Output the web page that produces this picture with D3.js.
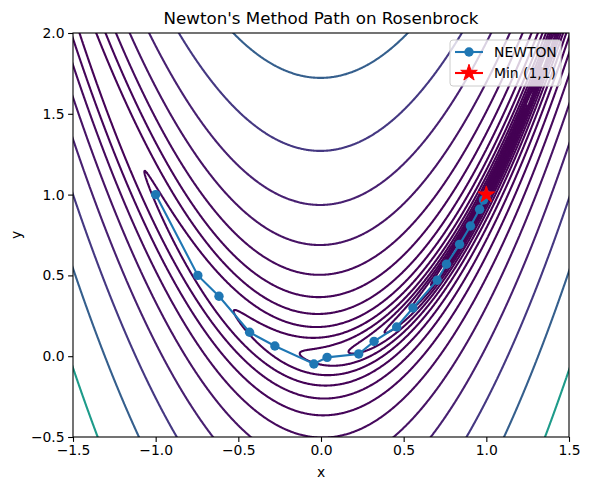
<!DOCTYPE html>
<html lang="en">
<head>
  <meta charset="UTF-8">
  <title>Newton's Method Path on Rosenbrock</title>
  <script src="https://d3js.org/d3.v7.min.js"></script>
  <style>
    body { margin: 0; background: #fff; }
    svg { font-family: "DejaVu Sans", sans-serif; }
  </style>
</head>
<body>
  <svg id="chart" width="589" height="490"></svg>
  <script>
    // contour levels (logarithmic)
    const levels = [0.01, 0.01833, 0.0336, 0.06158, 0.1129, 0.2069, 0.3793, 0.6952,
      1.274, 2.336, 4.281, 7.848, 14.38, 26.37, 48.33, 88.59, 162.4, 297.6, 545.6, 1000];

    // Newton iterates
    const pathX = [-1.0, -0.745, -0.617, -0.432, -0.279, -0.043, 0.037, 0.228, 0.321,
      0.458, 0.556, 0.703, 0.759, 0.838, 0.904, 0.959, 0.983, 1.0];
    const pathY = [1.0, 0.500, 0.371, 0.148, 0.063, -0.048, -0.007, 0.014, 0.092,
      0.181, 0.298, 0.470, 0.569, 0.692, 0.806, 0.909, 0.967, 1.0];

    const minPoint = [1, 1];
    const xTicks = [-1.5, -1.0, -0.5, 0.0, 0.5, 1.0, 1.5];
    const yTicks = [-0.5, 0.0, 0.5, 1.0, 1.5, 2.0];

    const svg = d3.select("#chart");
    const plotL = 73, plotR = 569, plotT = 33, plotB = 437;

    const x = d3.scaleLinear().domain([-1.5, 1.5]).range([plotL, plotR]);
    const y = d3.scaleLinear().domain([-0.5, 2.0]).range([plotB, plotT]);

    // Rosenbrock surface on a grid a bit larger than the axes
    const rosen = (a, b) => (1 - a) * (1 - a) + 100 * (b - a * a) * (b - a * a);
    const gx0 = -1.6, gy0 = -0.6, step = 0.005;
    const nx = 641, ny = 541;
    const values = new Float64Array(nx * ny);
    for (let j = 0; j < ny; j++) {
      for (let i = 0; i < nx; i++) {
        values[j * nx + i] = rosen(gx0 + i * step, gy0 + j * step);
      }
    }

    const contours = d3.contours().size([nx, ny]).thresholds(levels)(values);
    const proj = d3.geoTransform({
      point: function(cx, cy) {
        this.stream.point(x(gx0 + (cx - 0.5) * step), y(gy0 + (cy - 0.5) * step));
      }
    });
    const geo = d3.geoPath(proj);
    const lo = levels[0], hi = levels[levels.length - 1];

    svg.append("clipPath").attr("id", "plotclip")
      .append("rect")
      .attr("x", plotL).attr("y", plotT)
      .attr("width", plotR - plotL).attr("height", plotB - plotT);

    svg.append("g")
      .attr("clip-path", "url(#plotclip)")
      .selectAll("path")
      .data(contours)
      .enter()
      .append("path")
      .attr("d", geo)
      .attr("fill", "none")
      .attr("stroke", d => d3.interpolateViridis((d.value - lo) / (hi - lo)))
      .attr("stroke-width", 2.1)
      .attr("stroke-linejoin", "round");

    // star marker path
    function starPath(r) {
      const pts = [];
      for (let k = 0; k < 10; k++) {
        const rr = k % 2 === 0 ? r : r * 0.381966;
        const ang = -Math.PI / 2 + k * Math.PI / 5;
        pts.push([rr * Math.cos(ang), rr * Math.sin(ang)]);
      }
      return "M" + pts.map(p => p.join(",")).join("L") + "Z";
    }

    const blue = "#1f77b4";
    const pts = pathX.map((v, i) => [v, pathY[i]]);

    svg.append("path")
      .datum(pts)
      .attr("d", d3.line().x(d => x(d[0])).y(d => y(d[1])))
      .attr("fill", "none")
      .attr("stroke", blue)
      .attr("stroke-width", 2.1);

    svg.append("g")
      .selectAll("circle")
      .data(pts)
      .enter()
      .append("circle")
      .attr("cx", d => x(d[0]))
      .attr("cy", d => y(d[1]))
      .attr("r", 4.7)
      .attr("fill", blue);

    svg.append("path")
      .attr("d", starPath(8.7))
      .attr("transform", `translate(${x(minPoint[0])},${y(minPoint[1])})`)
      .attr("fill", "red")
      .attr("stroke", "red")
      .attr("stroke-width", 1);

    // axes
    const xAxis = svg.append("g")
      .attr("transform", `translate(0,${plotB})`)
      .call(d3.axisBottom(x).tickValues(xTicks).tickFormat(d3.format(".1f")).tickSize(4.9).tickPadding(3.5));
    const yAxis = svg.append("g")
      .attr("transform", `translate(${plotL},0)`)
      .call(d3.axisLeft(y).tickValues(yTicks).tickFormat(d3.format(".1f")).tickSize(4.9).tickPadding(3.5));
    [xAxis, yAxis].forEach(g => {
      g.select(".domain").remove();
      g.selectAll("line").attr("stroke", "#000").attr("stroke-width", 1.1);
      g.selectAll("text").attr("font-size", 13.9).attr("fill", "#000")
        .attr("font-family", "DejaVu Sans");
    });

    svg.append("rect")
      .attr("x", plotL).attr("y", plotT)
      .attr("width", plotR - plotL).attr("height", plotB - plotT)
      .attr("fill", "none").attr("stroke", "#000").attr("stroke-width", 1.1);

    svg.append("text")
      .attr("x", (plotL + plotR) / 2).attr("y", 24)
      .attr("text-anchor", "middle").attr("font-size", 16.7)
      .text("Newton's Method Path on Rosenbrock");

    svg.append("text")
      .attr("x", (plotL + plotR) / 2).attr("y", 477)
      .attr("text-anchor", "middle").attr("font-size", 13.9)
      .text("x");

    svg.append("text")
      .attr("transform", `translate(21,${(plotT + plotB) / 2}) rotate(-90)`)
      .attr("text-anchor", "middle").attr("font-size", 13.9)
      .text("y");

    // legend
    const legend = svg.append("g");
    legend.append("rect")
      .attr("x", 450).attr("y", 40).attr("width", 111).attr("height", 46)
      .attr("rx", 3)
      .attr("fill", "#fff").attr("fill-opacity", 0.8)
      .attr("stroke", "#ccc").attr("stroke-width", 1);
    legend.append("line")
      .attr("x1", 455).attr("x2", 483).attr("y1", 52).attr("y2", 52)
      .attr("stroke", blue).attr("stroke-width", 2.1);
    legend.append("circle")
      .attr("cx", 469).attr("cy", 52).attr("r", 4.7).attr("fill", blue);
    legend.append("text")
      .attr("x", 494).attr("y", 57).attr("font-size", 13.9).text("NEWTON");
    legend.append("line")
      .attr("x1", 455).attr("x2", 483).attr("y1", 73).attr("y2", 73)
      .attr("stroke", "red").attr("stroke-width", 2.1);
    legend.append("path")
      .attr("d", starPath(8.7))
      .attr("transform", "translate(469,73)")
      .attr("fill", "red").attr("stroke", "red").attr("stroke-width", 1);
    legend.append("text")
      .attr("x", 494).attr("y", 78).attr("font-size", 13.9).text("Min (1,1)");
  </script>
</body>
</html>
